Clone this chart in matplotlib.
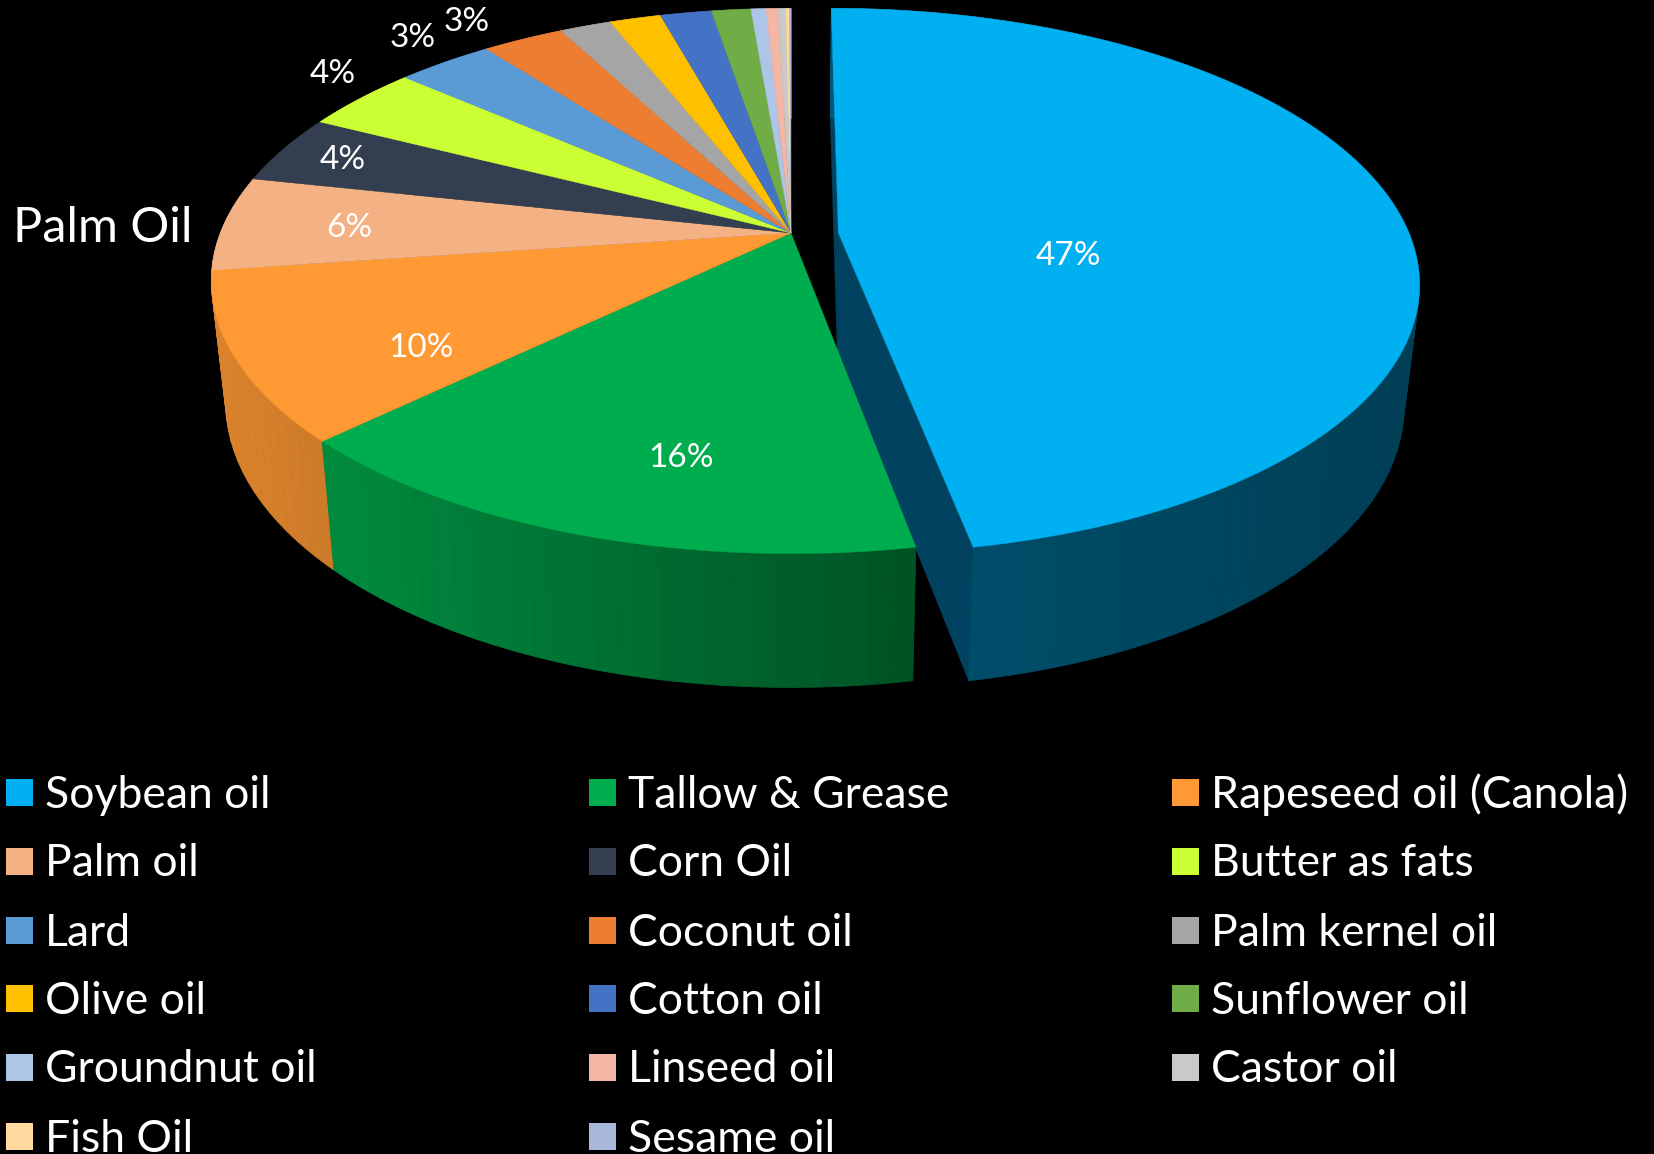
import numpy as np
import matplotlib
matplotlib.use("Agg")
import matplotlib.pyplot as plt
from matplotlib.patches import Rectangle

oils = ["Soybean oil", "Tallow & Grease", "Rapeseed oil (Canola)", "Palm oil", "Corn Oil",
        "Butter as fats", "Lard", "Coconut oil", "Palm kernel oil", "Olive oil", "Cotton oil",
        "Sunflower oil", "Groundnut oil", "Linseed oil", "Castor oil", "Fish Oil", "Sesame oil"]
shares = [47.16, 15.74, 10.0, 5.6, 4.1, 3.9, 3.2, 2.7, 1.7, 1.7, 1.7, 1.3, 0.5, 0.4, 0.25, 0.12, 0.05]
colors = ["#00B0F0", "#00AD4E", "#FF9933", "#F4B183", "#333F50", "#CCFF33", "#5B9BD5", "#ED7D31",
          "#A5A5A5", "#FFC000", "#4472C4", "#70AD47", "#ADC5E7", "#F4B7A6", "#C9C9C9", "#FFD9A0",
          "#A9B7DB"]

# where the percent labels sit, in figure pixels
label_xy = [(1068, 256), (681, 458), (421, 348), (349, 228), (343, 160), (333, 74), (413, 38), (467, 22)]

W, H = 1654, 1154
CX, CY = 791, 233
A, B, K = 570.6, 264.2, 0.176
BLOW = 0.083
SOY_DARK = "#00425F"


def top(x, y):
    # perspective view of the unit disc, back of the disc is far away
    d = 1 + K * y
    return CX + A * x / d, CY - B * y / d


def bottom(px, py):
    # underside of the slab
    return CX + 0.975 * (px - CX), py + 128.7 + 0.045 * (py - 441)


def rim(t0, t1, shift=0.0, n=2):
    t = np.linspace(t0, t1, n)
    return top(np.sin(t) + shift, np.cos(t))


def shade(color, x):
    f = np.interp(x, [210, 330, 900, 970, 1400], [0.86, 0.80, 0.48, 0.44, 0.36])
    return tuple(c * f for c in matplotlib.colors.to_rgb(color))


fig = plt.figure(figsize=(W / 100, H / 100), dpi=100, facecolor="black")
ax = fig.add_axes([0, 0, 1, 1])
ax.set_xlim(0, W)
ax.set_ylim(H, 0)
ax.axis("off")

edges = np.cumsum([0] + shares) / sum(shares) * 2 * np.pi

# walls of the pulled out slice
ax0, ay0 = top(BLOW, 0)
for t in (edges[0], edges[1]):
    rx, ry = top(np.sin(t) + BLOW, np.cos(t))
    bx, by = bottom(rx, ry)
    cx, cy = bottom(ax0, ay0)
    ax.fill([ax0, rx, bx, cx], [ay0, ry, by, cy], color=SOY_DARK, lw=0.3)

# side walls, split up so the light can fall off along the rim
bands = []
for i, col in enumerate(colors):
    shift = BLOW if i == 0 else 0.0
    n = max(2, int((edges[i + 1] - edges[i]) * 30))
    ts = np.linspace(edges[i], edges[i + 1], n + 1)
    for t0, t1 in zip(ts[:-1], ts[1:]):
        bands.append((t0, t1, shift, col))

# back of the rim first so the near walls cover it
bands.sort(key=lambda b: -np.cos((b[0] + b[1]) / 2))
for t0, t1, shift, col in bands:
    x, y = rim(t0, t1, shift, 8)
    bx, by = bottom(x, y)
    ax.fill(np.r_[x, bx[::-1]], np.r_[y, by[::-1]], color=shade(col, x.mean()), lw=0.6)

# top faces
for i, col in enumerate(colors):
    shift = BLOW if i == 0 else 0.0
    x, y = rim(edges[i], edges[i + 1], shift, 200)
    ox, oy = top(shift, 0)
    ax.fill(np.r_[ox, x], np.r_[oy, y], color=col, lw=0.3)

for share, (lx, ly) in zip(shares, label_xy):
    ax.text(lx, ly, f"{share:.0f}%", color="white", fontsize=24, family="Lato", ha="center", va="center")

ax.text(103, 228, "Palm Oil", color="white", fontsize=35, family="Lato", ha="center", va="center")

# legend in three columns, last row runs into the bottom edge
col_x = [6, 589, 1172]
row_y = [795, 864, 933, 1001, 1070, 1139]
for i, (name, col) in enumerate(zip(oils, colors)):
    x0 = col_x[i % 3]
    y0 = row_y[i // 3]
    ax.add_patch(Rectangle((x0, y0 - 16), 27, 27, color=col, lw=0))
    ax.text(x0 + 39, y0, name, color="white", fontsize=32, family="Lato", va="center")

fig.savefig("out.png", dpi=100, facecolor="black")
